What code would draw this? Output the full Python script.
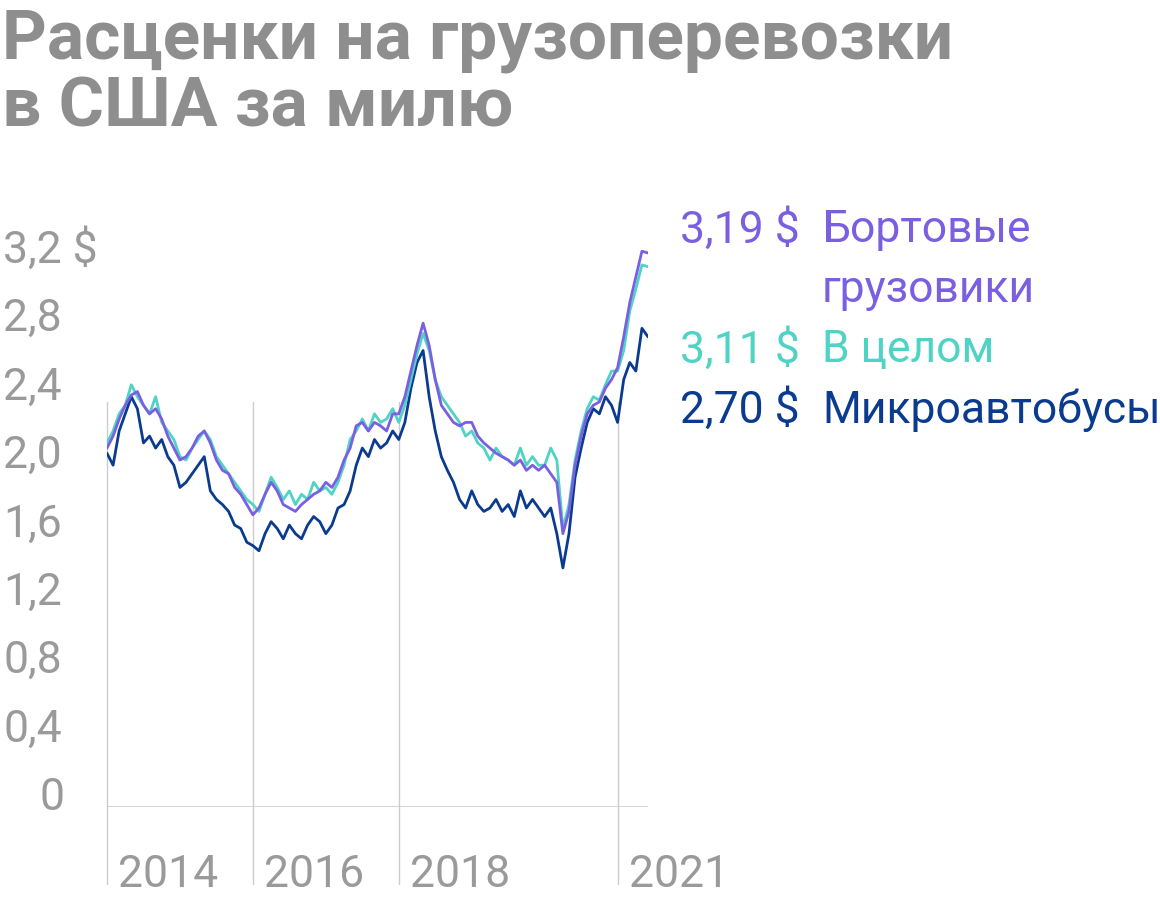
import numpy as np, pandas as pd, seaborn as sns, matplotlib
matplotlib.use("Agg")
import matplotlib.pyplot as plt
import matplotlib.transforms as mt

overall = [2.08,2.15,2.25,2.30,2.42,2.35,2.30,2.25,2.35,2.20,2.15,2.10,
           2.00,1.98,2.05,2.10,2.15,2.10,2.00,1.95,1.90,1.85,1.80,1.75,
           1.72,1.68,1.78,1.88,1.82,1.75,1.80,1.72,1.78,1.75,1.85,1.80,
           1.82,1.78,1.85,1.95,2.10,2.15,2.22,2.15,2.25,2.20,2.22,2.28,
           2.20,2.30,2.45,2.60,2.72,2.62,2.45,2.35,2.30,2.25,2.20,2.12,
           2.15,2.08,2.05,1.98,2.05,2.00,1.98,1.95,2.05,1.95,2.00,1.95,
           1.95,2.05,1.98,1.58,1.72,1.98,2.15,2.28,2.35,2.33,2.42,2.50,
           2.50,2.62,2.85,2.98,3.12,3.11]
flatbed = [2.05,2.12,2.22,2.30,2.36,2.38,2.30,2.25,2.28,2.22,2.12,2.05,
           1.98,2.00,2.05,2.12,2.15,2.08,1.98,1.92,1.90,1.82,1.78,1.72,
           1.66,1.70,1.78,1.85,1.80,1.72,1.70,1.68,1.72,1.75,1.78,1.80,
           1.85,1.82,1.88,1.98,2.05,2.18,2.20,2.15,2.20,2.18,2.15,2.25,
           2.25,2.35,2.50,2.65,2.78,2.65,2.45,2.30,2.25,2.20,2.18,2.20,
           2.20,2.12,2.08,2.05,2.02,2.00,1.98,1.95,1.98,1.92,1.95,1.92,
           1.95,1.90,1.85,1.55,1.68,1.95,2.12,2.25,2.30,2.32,2.40,2.45,
           2.52,2.70,2.90,3.05,3.20,3.19]
van = [2.02,1.95,2.15,2.25,2.35,2.28,2.08,2.12,2.05,2.10,2.00,1.95,
       1.82,1.85,1.90,1.95,2.00,1.80,1.75,1.72,1.68,1.60,1.58,1.50,
       1.48,1.45,1.55,1.62,1.58,1.52,1.60,1.55,1.52,1.60,1.65,1.62,
       1.55,1.60,1.70,1.72,1.80,1.95,2.05,2.00,2.10,2.05,2.08,2.15,
       2.10,2.20,2.40,2.55,2.62,2.35,2.15,2.00,1.92,1.85,1.75,1.70,
       1.80,1.72,1.68,1.70,1.75,1.68,1.72,1.65,1.80,1.70,1.75,1.70,
       1.65,1.70,1.55,1.35,1.55,1.88,2.05,2.20,2.28,2.25,2.35,2.30,
       2.20,2.45,2.55,2.50,2.75,2.70]
years = [2014 + i/12 for i in range(len(overall))]

C_FLAT, C_ALL, C_VAN = "#7a5fe0", "#4fd3c4", "#0b3b8f"
GRAY = "#9a9a9a"
FS = 32
sns.set_theme(style="white")
plt.rcParams['font.family'] = ['Roboto', 'DejaVu Sans']

fig = plt.figure(figsize=(11.6, 9.04), dpi=100)
ax = fig.add_axes([107/1160, 1-808/904, (648-107)/1160, (808-230)/904])
df = pd.DataFrame({"x": years*3, "y": overall+flatbed+van,
                   "s": ["all"]*len(years)+["flat"]*len(years)+["van"]*len(years)})
sns.lineplot(data=df, x="x", y="y", hue="s", palette={"all": C_ALL, "flat": C_FLAT, "van": C_VAN},
             hue_order=["van", "all", "flat"], linewidth=2, legend=False, ax=ax)
ax.set_xlim(2014, years[-1])
ax.set_ylim(-0.047, 3.33)
for s in ax.spines.values():
    s.set_visible(False)
ax.set_xticks([]); ax.set_yticks([]); ax.set_xlabel(""); ax.set_ylabel("")
ax.axhline(-0.047, color="#cccccc", lw=1.2)
for yr in [2014, 2016, 2018, 2021]:
    ax.axvline(yr, ymin=-0.133, ymax=0.7, color="#cccccc", lw=1, clip_on=False, zorder=0)
    ax.text(yr + 0.15, -0.047 - 0.39, str(yr), fontsize=FS, color=GRAY, va="center", ha="left")

tr = mt.blended_transform_factory(fig.transFigure, ax.transData)
for v, lab in zip([0, 0.4, 0.8, 1.2, 1.6, 2.0, 2.4, 2.8, 3.2],
                  ["0", "0,4", "0,8", "1,2", "1,6", "2,0", "2,4", "2,8", "3,2 $"]):
    x0 = 3/1160 if v > 0 else 40/1160
    ax.text(x0, v + 0.01, lab, transform=tr, fontsize=FS, color=GRAY, va="center", ha="left")

fig.text(2/1160, 1-8/904, "Расценки на грузоперевозки\nв США за милю", fontsize=50,
         fontweight="bold", color="#8e8e8e", va="top", ha="left", linespacing=1.05)

def lab(y, left, right, c):
    if left:
        fig.text(800/1160, 1-y/904, left, fontsize=FS, color=c, ha="right", va="center")
    fig.text(822/1160, 1-y/904, right, fontsize=FS, color=c, ha="left", va="center")
lab(230, "3,19 $", "Бортовые", C_FLAT)
lab(290, None, "грузовики", C_FLAT)
lab(350, "3,11 $", "В целом", C_ALL)
lab(410, "2,70 $", "Микроавтобусы", C_VAN)
fig.savefig("out.png", dpi=100)
